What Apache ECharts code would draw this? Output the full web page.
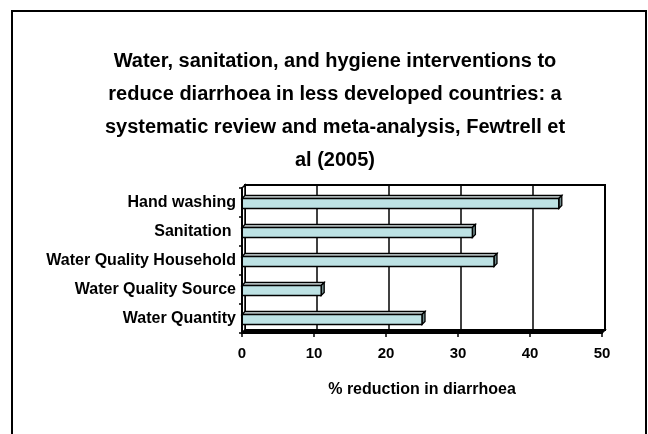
<!DOCTYPE html>
<html>
<head>
<meta charset="utf-8">
<script src="https://cdn.jsdelivr.net/npm/echarts@6/dist/echarts.min.js"></script>
<style>
html,body{margin:0;padding:0;background:#fff;}
#chart{width:648px;height:434px;}
</style>
</head>
<body>
<div id="chart"></div>
<script>
const titleText = 'Water, sanitation, and hygiene interventions to\nreduce diarrhoea in less developed countries: a\nsystematic review and meta-analysis, Fewtrell et\nal (2005)';
const categories = ['Hand washing', 'Sanitation ', 'Water Quality Household', 'Water Quality Source', 'Water Quantity'];
const values = [44, 32, 35, 11, 25];
const xTicks = [0, 10, 20, 30, 40, 50];
const xAxisName = '% reduction in diarrhoea';

const FONT = "'Liberation Sans', Arial, sans-serif";
const DEPTH = 3;
const BAR_H = 10;

const chart = echarts.init(document.getElementById('chart'));

function renderWall(params, api) {
  const n = categories.length;
  const band = api.size([0, 1])[1];
  const xMin = xTicks[0], xMax = xTicks[xTicks.length - 1];
  const pTop = api.coord([xMin, 0]);
  const pBot = api.coord([xMin, n - 1]);
  const x0 = pTop[0];
  const x1 = api.coord([xMax, 0])[0];
  const yt = pTop[1] - band / 2;
  const yb = pBot[1] + band / 2;
  const d = DEPTH;
  const children = [];
  children.push({
    type: 'rect',
    shape: { x: x0 + d, y: yt - d, width: x1 - x0, height: yb - yt },
    style: { fill: '#ffffff', stroke: '#000', lineWidth: 2 }
  });
  xTicks.slice(1, -1).forEach(function (t) {
    const x = api.coord([t, 0])[0] + d;
    children.push({
      type: 'line',
      shape: { x1: x, y1: yt - d, x2: x, y2: yb - d },
      style: { stroke: '#000', lineWidth: 1.5 }
    });
  });
  children.push({
    type: 'polygon',
    shape: { points: [[x0, yt], [x0 + d, yt - d], [x0 + d, yb - d], [x0, yb]] },
    style: { fill: '#ffffff', stroke: '#000', lineWidth: 1.5 }
  });
  children.push({
    type: 'polygon',
    shape: { points: [[x0, yb], [x1, yb], [x1 + d, yb - d], [x0 + d, yb - d]] },
    style: { fill: '#000', stroke: '#000', lineWidth: 1.5 }
  });
  return { type: 'group', children: children };
}

function renderBar(params, api) {
  const val = api.value(0);
  const idx = api.value(1);
  const s = api.coord([0, idx]);
  const e = api.coord([val, idx]);
  const d = DEPTH;
  const h = BAR_H;
  const x0 = s[0], x1 = e[0];
  const y0 = s[1] - h / 2 + 1;
  const y1 = y0 + h;
  return {
    type: 'group',
    children: [
      {
        type: 'polygon',
        shape: { points: [[x0, y0], [x0 + d, y0 - d], [x1 + d, y0 - d], [x1, y0]] },
        style: { fill: '#e4f2f3', stroke: '#000', lineWidth: 1.3 }
      },
      {
        type: 'polygon',
        shape: { points: [[x1, y0], [x1 + d, y0 - d], [x1 + d, y1 - d], [x1, y1]] },
        style: { fill: '#6f8a8b', stroke: '#000', lineWidth: 1.3 }
      },
      {
        type: 'rect',
        shape: { x: x0, y: y0, width: x1 - x0, height: h },
        style: { fill: '#bde2e4', stroke: '#000', lineWidth: 1.5 }
      }
    ]
  };
}

const option = {
  animation: false,
  backgroundColor: '#ffffff',
  title: {
    text: titleText,
    left: 330,
    top: 40,
    textAlign: 'center',
    textStyle: {
      fontFamily: FONT,
      fontWeight: 'bold',
      fontSize: 20,
      lineHeight: 33,
      color: '#000'
    }
  },
  graphic: [{
    type: 'rect',
    shape: { x: 12, y: 11, width: 634, height: 440 },
    style: { fill: 'none', stroke: '#000', lineWidth: 2 },
    silent: true,
    z: 100
  }],
  grid: { left: 242, right: 46, top: 188, bottom: 101 },
  xAxis: {
    type: 'value',
    min: xTicks[0],
    max: xTicks[xTicks.length - 1],
    interval: 10,
    z: 5,
    axisLine: { show: true, lineStyle: { color: '#000', width: 2 } },
    axisTick: { show: true, length: 4, lineStyle: { color: '#000', width: 1.5 } },
    splitLine: { show: false },
    axisLabel: { fontFamily: FONT, fontWeight: 'bold', fontSize: 15, color: '#000', margin: 13 },
    name: xAxisName,
    nameLocation: 'middle',
    nameGap: 49,
    nameTextStyle: { fontFamily: FONT, fontWeight: 'bold', fontSize: 16, color: '#000' }
  },
  yAxis: {
    type: 'category',
    data: categories,
    inverse: true,
    z: 5,
    axisLine: { show: true, lineStyle: { color: '#000', width: 2 } },
    axisTick: { show: true, length: 3, lineStyle: { color: '#000', width: 1.5 } },
    splitLine: { show: false },
    axisLabel: { fontFamily: FONT, fontWeight: 'bold', fontSize: 16, color: '#000', margin: 6 }
  },
  series: [
    {
      type: 'custom',
      name: 'wall',
      renderItem: renderWall,
      data: [[0, 0]],
      encode: { x: 0, y: 1 },
      z: 1,
      silent: true
    },
    {
      type: 'custom',
      name: '% reduction',
      renderItem: renderBar,
      data: values.map(function (v, i) { return [v, i]; }),
      encode: { x: 0, y: 1 },
      z: 3
    }
  ]
};
chart.setOption(option);
</script>
</body>
</html>
